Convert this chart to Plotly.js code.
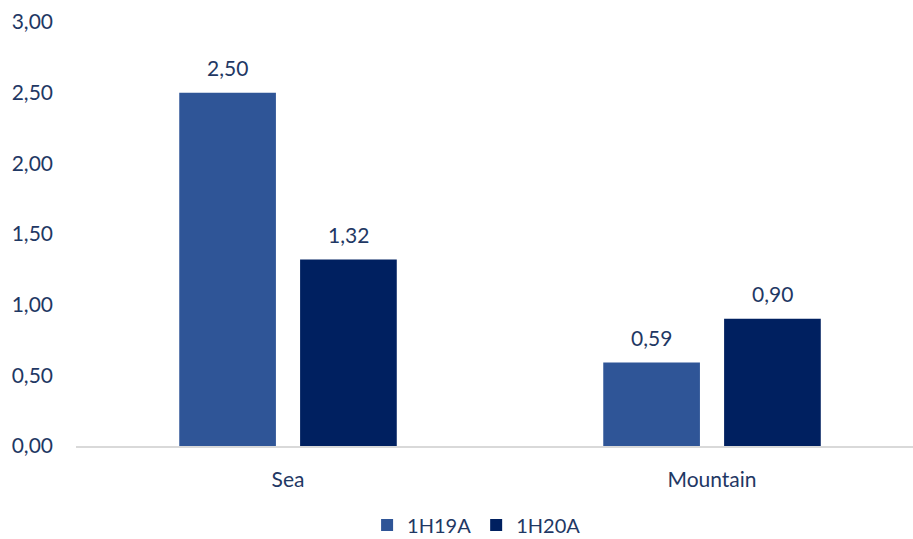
<!DOCTYPE html>
<html><head><meta charset="utf-8">
<script src="https://cdn.plot.ly/plotly-3.0.1.min.js"></script>
<style>body{margin:0;padding:0;background:#fff}#chart{width:913px;height:539px}</style>
</head><body><div id="chart"></div>
<script>
const categories = ["Sea", "Mountain"];
const series1Name = "1H19A";
const series1 = [2.50, 0.59];
const series2Name = "1H20A";
const series2 = [1.32, 0.90];
const yTicks = [0, 0.5, 1, 1.5, 2, 2.5, 3];

const textColor = "#1F3864";
const font = {family: "Lato, sans-serif", size: 21, color: textColor};

const bargap = 0.43;
const slot = (1 - bargap) / 2;

const traces = [
  {type: "bar", name: series1Name, x: categories, y: series1,
   marker: {color: "#2F5597"}, hoverinfo: "skip"},
  {type: "bar", name: series2Name, x: categories, y: series2,
   marker: {color: "#002060"}, hoverinfo: "skip"}
];

const fmt = v => v.toFixed(2).replace(".", ",");
const annotations = [];
[[series1, -slot / 2], [series2, slot / 2]].forEach(([vals, off]) => {
  vals.forEach((v, i) => {
    annotations.push({x: i + off, y: v, xref: "x", yref: "y", text: fmt(v), showarrow: false,
      yanchor: "middle", yshift: 25, font: font});
  });
});

const layout = {
  width: 913, height: 539,
  margin: {l: 76, r: 0, t: 22, b: 93},
  paper_bgcolor: "#fff", plot_bgcolor: "#fff",
  separators: ",.",
  font: font,
  barmode: "group",
  bargap: bargap,
  bargroupgap: 0.2,
  showlegend: true,
  legend: {orientation: "h", x: 0.522, xanchor: "center", xref: "container", yref: "container", y: 0.026, yanchor: "middle",
           font: {family: "Lato, sans-serif", size: 20, color: textColor}, traceorder: "normal", itemwidth: 30,
           tracegroupgap: 0, itemsizing: "constant"},
  annotations: annotations,
  xaxis: {type: "category", range: [-0.5, 1.474], showline: true, linecolor: "#D9D9D9", linewidth: 2,
          ticks: "", showgrid: false, zeroline: false, tickfont: font, ticklabelstandoff: 14},
  yaxis: {range: [0, 3], tickvals: yTicks, tickformat: ".2f", showgrid: false, zeroline: false,
          showline: false, ticks: "", tickfont: font, ticklabelstandoff: 22}
};

Plotly.newPlot("chart", traces, layout, {displayModeBar: false, staticPlot: true});
</script></body></html>
